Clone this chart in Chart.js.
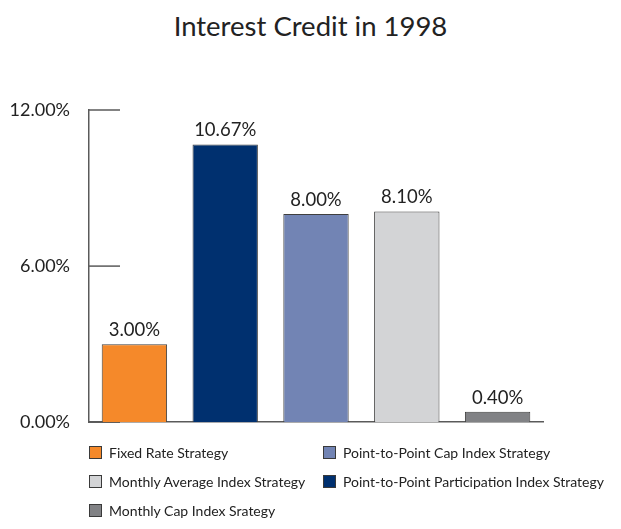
<!DOCTYPE html>
<html lang="en">
<head>
    <meta charset="UTF-8">
    <title>Interest Credit in 1998</title>
    <script src="https://cdn.jsdelivr.net/npm/chart.js"></script>
    <style>
        body {
            margin: 0;
            padding: 0;
            background: #fff;
            font-family: Lato, "Open Sans", sans-serif;
        }

        .wrap {
            position: relative;
            width: 621px;
            height: 529px;
        }

        h1 {
            position: absolute;
            left: 0;
            top: 9px;
            width: 621px;
            margin: 0;
            text-align: center;
            font-weight: normal;
            font-size: 27.5px;
            line-height: 34px;
            color: #222;
        }

        .chart-box {
            position: absolute;
            left: 0;
            top: 0;
            width: 621px;
            height: 452px;
        }

        #legend {
            position: absolute;
            left: 89px;
            top: 438px;
            display: grid;
            grid-template-columns: 234px auto;
            grid-auto-rows: 29px;
            color: #222;
            font-size: 14px;
            white-space: nowrap;
        }

        .item {
            display: flex;
            align-items: center;
        }

        .item span.box {
            width: 11px;
            height: 11px;
            border: 1px solid #3a3a3a;
            margin-right: 7px;
            flex: none;
        }
    </style>
</head>
<body>
<div class="wrap">
    <h1>Interest Credit in 1998</h1>
    <div class="chart-box">
        <canvas id="creditChart"></canvas>
    </div>
    <div id="legend"></div>
</div>

<script>
    var strategies = [
        'Fixed Rate Strategy',
        'Point-to-Point Participation Index Strategy',
        'Point-to-Point Cap Index Strategy',
        'Monthly Average Index Strategy',
        'Monthly Cap Index Srategy'
    ];
    var credits = [3.00, 10.67, 8.00, 8.10, 0.40];
    var barColors = ['#f5892a', '#00306f', '#7284b4', '#d3d4d6', '#818285'];
    var yTicks = [0, 6, 12];
    // order the legend reads in (two columns, left to right)
    var legendOrder = [0, 2, 3, 1, 4];

    var textColor = '#222';
    var axisColor = '#5a5a5a';

    // short inward tick marks on the y axis
    var innerTicks = {
        id: 'innerTicks',
        beforeDatasetsDraw: function (chart) {
            var ctx = chart.ctx;
            var y = chart.scales.y;
            var left = chart.chartArea.left;
            ctx.save();
            ctx.strokeStyle = axisColor;
            ctx.lineWidth = 1.5;
            yTicks.forEach(function (v) {
                var py = y.getPixelForValue(v);
                ctx.beginPath();
                ctx.moveTo(left, py);
                ctx.lineTo(left + 31, py);
                ctx.stroke();
            });
            ctx.restore();
        }
    };

    // value labels above the bars
    var valueLabels = {
        id: 'valueLabels',
        afterDatasetsDraw: function (chart) {
            var ctx = chart.ctx;
            var meta = chart.getDatasetMeta(0);
            ctx.save();
            ctx.fillStyle = textColor;
            ctx.font = '18.5px Lato, "Open Sans", sans-serif';
            ctx.textAlign = 'center';
            ctx.textBaseline = 'bottom';
            meta.data.forEach(function (bar, i) {
                ctx.fillText(credits[i].toFixed(2) + '%', bar.x, bar.y - 5);
            });
            ctx.restore();
        }
    };

    var ctx = document.getElementById('creditChart').getContext('2d');
    var creditChart = new Chart(ctx, {
        type: 'bar',
        data: {
            labels: strategies,
            datasets: [{
                data: credits,
                backgroundColor: barColors,
                borderColor: '#3f3f3f',
                borderWidth: 1,
                barPercentage: 0.72,
                categoryPercentage: 1
            }]
        },
        options: {
            responsive: true,
            maintainAspectRatio: false,
            animation: false,
            layout: {
                padding: { left: 0, right: 78, top: 110, bottom: 10 }
            },
            plugins: {
                legend: { display: false },
                tooltip: { enabled: false }
            },
            scales: {
                x: {
                    grid: { display: false, drawTicks: false },
                    ticks: { display: false },
                    border: { color: axisColor, width: 1.5 }
                },
                y: {
                    min: 0,
                    max: 12,
                    afterBuildTicks: function (scale) {
                        scale.ticks = yTicks.map(function (v) { return { value: v }; });
                    },
                    afterFit: function (scale) {
                        scale.width = 89;
                    },
                    grid: { display: false, drawTicks: false },
                    border: { color: axisColor, width: 1.5 },
                    ticks: {
                        padding: 19,
                        color: textColor,
                        font: { family: 'Lato, "Open Sans", sans-serif', size: 18 },
                        callback: function (v) { return v.toFixed(2) + '%'; }
                    }
                }
            }
        },
        plugins: [innerTicks, valueLabels]
    });

    // two-column legend under the chart
    var legend = document.getElementById('legend');
    legendOrder.forEach(function (i) {
        var item = document.createElement('div');
        item.className = 'item';
        var box = document.createElement('span');
        box.className = 'box';
        box.style.background = barColors[i];
        var label = document.createElement('span');
        label.textContent = strategies[i];
        item.appendChild(box);
        item.appendChild(label);
        legend.appendChild(item);
    });
</script>
</body>
</html>
